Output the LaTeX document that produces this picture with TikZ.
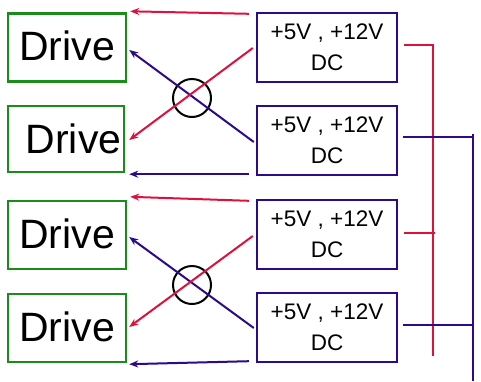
\documentclass[tikz,border=0pt]{standalone}
\usepackage{fontspec}
\setmainfont{Liberation Sans}
\usetikzlibrary{arrows.meta,calc}
\definecolor{dgreen}{HTML}{1A8C1A}
\definecolor{dpurple}{HTML}{2C0A8C}
\definecolor{dred}{HTML}{E0103C}
\begin{document}
\begin{tikzpicture}[x=1pt,y=-1pt,
  drivebox/.style={draw=dgreen,line width=2.4pt,minimum width=118pt,minimum height=68pt,inner sep=0pt,font=\fontsize{41}{42}\selectfont},
  psubox/.style={draw=dpurple,line width=2.4pt,minimum width=140pt,minimum height=69pt,inner sep=0pt,align=center,font=\fontsize{22.5}{31}\selectfont},
  redarr/.style={draw=dred,line width=2pt,-{Stealth[length=9pt,width=7pt]}},
  purarr/.style={draw=dpurple,line width=2pt,-{Stealth[length=9pt,width=7pt]}},
  redbus/.style={draw=dred,line width=2.2pt},
  purbus/.style={draw=dpurple,line width=2.2pt},
  ring/.style={circle,draw=black,line width=2pt,minimum size=38pt,inner sep=0pt}]
\useasboundingbox (0,0) rectangle (481,381);
\fill[white] (0,0) rectangle (481,381);
% drives
\node[drivebox] (d1) at (67,47.5) {\raisebox{3pt}{Drive}};
\node[drivebox,minimum width=116pt,minimum height=66pt] (d2) at (66,139) {\hspace{15pt}Drive};
\node[drivebox] (d3) at (67,235) {\raisebox{2pt}{Drive}};
\node[drivebox] (d4) at (67,328) {\raisebox{3pt}{Drive}};
% power supplies
\node[psubox] (p1) at (327,47.5) {+5V , +12V\\DC};
\node[psubox] (p2) at (327,140.5) {+5V , +12V\\DC};
\node[psubox] (p3) at (327,234.5) {+5V , +12V\\DC};
\node[psubox] (p4) at (327,327.5) {+5V , +12V\\DC};
% rings
\node[ring] (r1) at (192,98) {};
\node[ring] (r2) at (192,285) {};
% arrows top group
\draw[redarr] ($(p1.north west)+(-7,2)$) -- ($(d1.north east)+(3,-1)$);
\draw[purarr] ($(p2.west)+(-2,1.5)$) -- ($(d1.east)+(2,2.5)$);
\draw[redarr] ($(p1.west)+(-3,0.5)$) -- ($(d2.east)+(4,1)$);
\draw[purarr] ($(p2.south west)+(-7,-2)$) -- ($(d2.south east)+(4,1)$);
% arrows bottom group
\draw[redarr] ($(p3.north west)+(-7,2)$) -- ($(d3.north east)+(3,-3)$);
\draw[purarr] ($(p4.west)+(-2,0.5)$) -- ($(d3.east)+(2,2)$);
\draw[redarr] ($(p3.west)+(-3,1.5)$) -- ($(d4.east)+(2,-1)$);
\draw[purarr] ($(p4.south west)+(-7,-2)$) -- ($(d4.south east)+(2,1)$);
% buses
\coordinate (rb1) at (433,45);
\coordinate (rb3) at (435,233);
\coordinate (rbend) at (433,356);
\draw[redbus] ($(p1.east)+(6,-2.5)$) -- (rb1) -- (rbend);
\draw[redbus] ($(p3.east)+(6,-1.5)$) -- (rb3);
\coordinate (pb2) at (473,137);
\coordinate (pbend) at (473,381);
\draw[purbus] ($(p2.east)+(5,-3.5)$) -- (pb2);
\draw[purbus] (473,134) -- (pbend);
\draw[purbus] ($(p4.east)+(5,-2.5)$) -- (473,325);
\end{tikzpicture}
\end{document}
